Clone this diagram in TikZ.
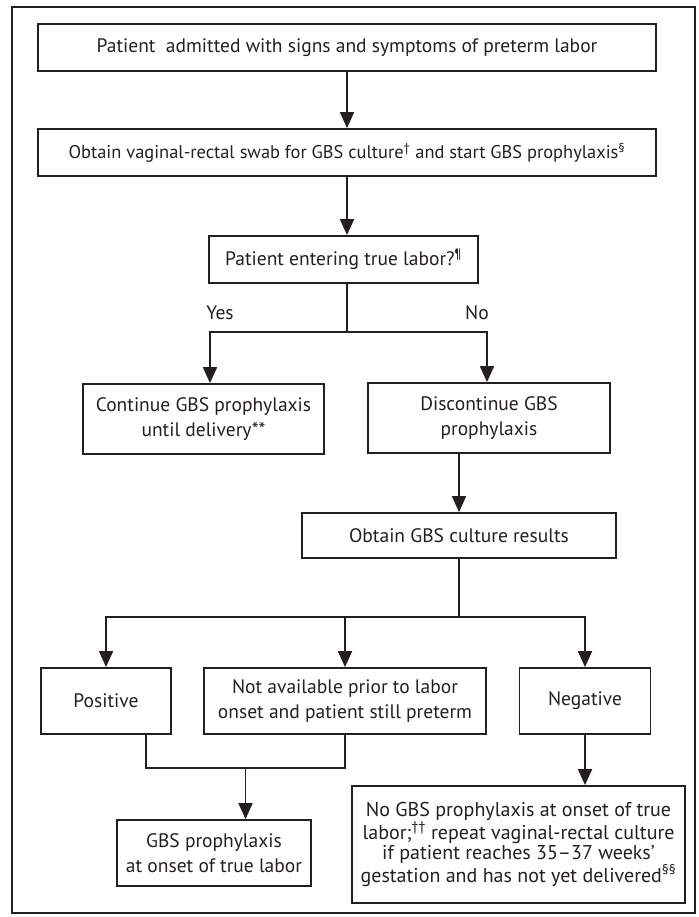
\documentclass[tikz,border=0pt]{standalone}
\usepackage{fontspec}
\setmainfont{PT Sans}
\usepackage{xcolor}
\usetikzlibrary{arrows.meta,positioning}
\definecolor{ink}{HTML}{231F20}

\begin{document}
\begin{tikzpicture}[x=1bp,y=-1bp]
    	\tikzstyle{box_style} = [draw=ink,line width=1.8bp,text=ink,align=center,inner sep=0pt,font=\fontsize{19.5bp}{25bp}\selectfont]
	    \tikzstyle{edge_style} = [draw=ink,line width=1.8bp]
	    \tikzstyle{arrow_style} = [edge_style,-{Triangle[length=16bp,width=14bp]}]
	    \tikzstyle{label_style} = [text=ink,inner sep=0pt,font=\fontsize{19.5bp}{22bp}\selectfont]
		    \useasboundingbox (0,0) rectangle (699,917);
		    \draw[edge_style] (12,7) rectangle (695,913);
		    % boxes
		    \node[box_style,minimum width=618bp,minimum height=47bp] (b1) at (347,47.5) {Patient\ \ admitted with signs and symptoms of preterm labor};
		    \node[box_style,minimum width=618bp,minimum height=47bp,font=\fontsize{18.4bp}{22bp}\selectfont] (b2) at (347,152.5) {Obtain vaginal-rectal swab for GBS culture\textsuperscript{†} and start GBS prophylaxis\textsuperscript{§}};
		    \node[box_style,minimum width=269bp,minimum height=47bp] (b3) at (343.5,259.5) {Patient entering true labor?\textsuperscript{¶}};
		    \node[box_style,minimum width=241bp,minimum height=70bp] (b4) at (203.5,419) {Continue GBS prophylaxis\\until delivery**};
		    \node[box_style,minimum width=242bp,minimum height=70bp] (b5) at (489,418) {Discontinue GBS\\prophylaxis};
		    \node[box_style,minimum width=314bp,minimum height=45bp] (b6) at (459,535.5) {Obtain GBS culture results};
		    \node[box_style,minimum width=130bp,minimum height=66bp] (b7) at (106,701) {Positive};
		    \node[box_style,minimum width=282bp,minimum height=66bp] (b8) at (345,701) {Not available prior to labor\\onset and patient still preterm};
		    \node[box_style,minimum width=131bp,minimum height=66bp] (b9) at (585,701) {Negative};
		    \node[box_style,minimum width=194bp,minimum height=66bp] (b10) at (214,853) {GBS prophylaxis\\at onset of true labor};
		    \node[box_style,minimum width=333bp,minimum height=117bp,font=\fontsize{20bp}{20.5bp}\selectfont] (b11) at (518.5,844.5) {No GBS prophylaxis at onset of true\\labor;\textsuperscript{††} repeat vaginal-rectal culture\\if patient reaches 35–37 weeks’\\gestation and has not yet delivered\textsuperscript{§§}};
		    % labels
		    \node[label_style] (yes) at (220,313) {Yes};
		    \node[label_style] (no) at (477,313) {No};
		    % joints
		    \coordinate (s1) at (347,332);
		    \coordinate (yl) at (210,332);
		    \coordinate (nr) at (487,332);
		    \coordinate (s2) at (459,617);
		    \coordinate (pl) at (106,617);
		    \coordinate (nl) at (585,617);
		    \coordinate (jl) at (146,768);
		    \coordinate (jr) at (345,768);
		    \coordinate (jm) at (245.5,768);
		    % connectors
		    \draw[arrow_style] (b1) -- (b2);
		    \draw[arrow_style] (b2.south) -- (b2.south |- b3.north);
		    \draw[edge_style] (b3.south -| s1) -- (s1);
		    \draw[arrow_style] (s1) -- (yl) -- (yl |- b4.north);
		    \draw[arrow_style] (s1) -- (nr) -- (nr |- b5.north);
		    \draw[arrow_style] (b5.south -| b6) -- (b6);
		    \draw[edge_style] (b6) -- (s2);
		    \draw[arrow_style] (s2) -- (pl) -- (b7);
		    \draw[arrow_style] (s2) -- (nl) -- (b9);
		    \draw[arrow_style] (s2 -| b8) -- (b8);
		    \draw[edge_style] (b7.south -| jl) -- (jl) -- (jr) -- (b8.south);
		    \draw[arrow_style] (jm) -- (jm |- b10.north);
		    \draw[arrow_style] (b9) -- (b9 |- b11.north);
	    \end{tikzpicture}
\end{document}
